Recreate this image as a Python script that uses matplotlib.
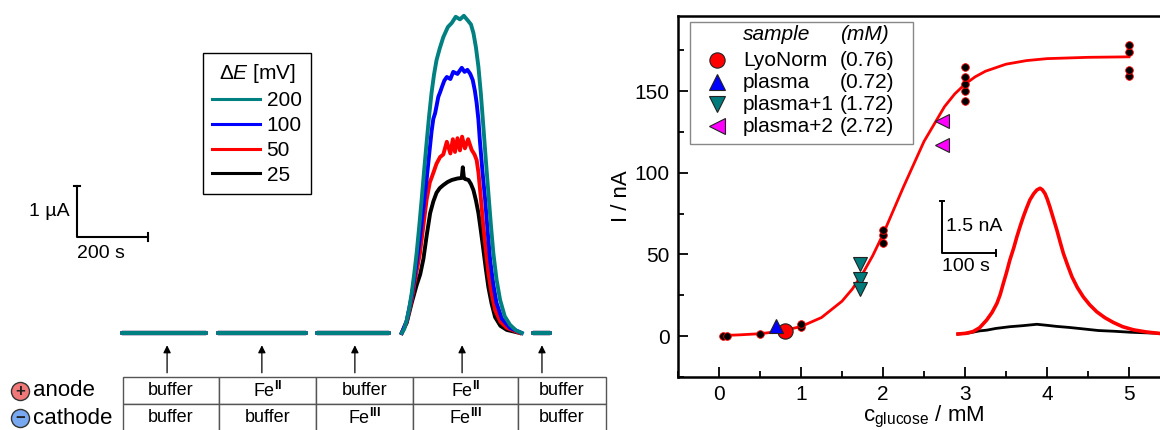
import matplotlib
matplotlib.use("Agg")
import matplotlib.pyplot as plt
from matplotlib.lines import Line2D
from matplotlib.patches import Rectangle
from matplotlib.ticker import MultipleLocator

plt.rcParams['font.family'] = ['Liberation Sans', 'DejaVu Sans']
plt.rcParams['mathtext.fontset'] = 'custom'
plt.rcParams['mathtext.rm'] = 'Liberation Sans'
plt.rcParams['mathtext.it'] = 'Liberation Sans:italic'
plt.rcParams['mathtext.bf'] = 'Liberation Sans:bold'

W, H = 1160, 430


def fx(px):
    return px / W


def fy(py):
    return 1 - py / H


# ---- left panel: current traces (time in s, current in uA) ----
baseline_segments = [(0, 237), (270, 518), (549, 752), (1158, 1206)]
delta_e = ['200', '100', '50', '25']
trace_colors = ['#008080', '#0000ff', '#ff0000', '#000000']

t_200 = [788, 795, 802, 809, 816, 823, 830, 837, 844, 851, 858, 865, 872, 879, 886, 895, 905,
         918, 929, 940, 952, 963, 975, 983, 990, 997, 1004, 1011, 1018, 1025, 1032, 1039,
         1046, 1055, 1065, 1078, 1093, 1110, 1126]
i_200 = [0, 0.08, 0.25, 0.48, 0.78, 1.15, 1.57, 2.07, 2.61, 3.18, 3.73, 4.25, 4.71, 5.07,
         5.35, 5.58, 5.80, 6.00, 6.08, 6.20, 6.15, 6.22, 6.12, 6.05, 5.88, 5.60, 5.22, 4.68,
         4.04, 3.38, 2.75, 2.13, 1.57, 1.05, 0.65, 0.33, 0.16, 0.05, 0]
t_100 = [788, 802, 816, 830, 840, 849, 858, 866, 872, 877, 882, 886, 891, 896, 901, 908, 915,
         925, 933, 945, 957, 965, 973, 981, 988, 994, 999, 1004, 1008, 1015, 1023, 1030, 1037,
         1046, 1055, 1070, 1093, 1126]
i_100 = [0, 0.24, 0.72, 1.38, 1.90, 2.45, 3.0, 3.55, 3.95, 4.20, 4.31, 4.45, 4.63, 4.72,
         4.82, 4.95, 5.02, 4.98, 5.12, 5.08, 5.20, 5.12, 5.16, 5.08, 4.96, 4.75, 4.51, 4.18,
         3.78, 3.20, 2.61, 2.0, 1.43, 0.95, 0.59, 0.28, 0.10, 0]
t_50 = [788, 802, 816, 828, 839, 848, 858, 867, 877, 886, 896, 905, 915, 925, 932, 938, 945,
        952, 958, 966, 975, 985, 993, 999, 1004, 1008, 1013, 1018, 1025, 1032, 1041, 1051,
        1066, 1084, 1121]
i_50 = [0, 0.22, 0.65, 1.14, 1.55, 2.05, 2.61, 2.95, 3.14, 3.32, 3.45, 3.50, 3.75, 3.52,
        3.80, 3.55, 3.82, 3.58, 3.85, 3.62, 3.80, 3.59, 3.50, 3.39, 3.15, 2.86, 2.48, 2.08,
        1.62, 1.18, 0.78, 0.45, 0.22, 0.10, 0]
t_25 = [788, 802, 816, 830, 840, 849, 858, 868, 877, 886, 895, 905, 917, 929, 945, 957, 960,
        963, 966, 976, 983, 990, 997, 1004, 1011, 1018, 1025, 1032, 1041, 1051, 1066, 1084,
        1121]
i_25 = [0, 0.20, 0.59, 0.94, 1.15, 1.45, 1.90, 2.35, 2.58, 2.75, 2.84, 2.90, 2.96, 3.00,
        3.03, 3.04, 3.25, 3.05, 3.02, 3.00, 2.92, 2.80, 2.60, 2.35, 2.00, 1.63, 1.25, 0.90,
        0.58, 0.31, 0.14, 0.06, 0]
peak_t = [t_200, t_100, t_50, t_25]
peak_i = [i_200, i_100, i_50, i_25]

arrow_t = [127, 394, 656, 958, 1183]
anode_row = ['buffer', r'Fe$^{\mathbf{II}}$', 'buffer', r'Fe$^{\mathbf{II}}$', 'buffer']
cathode_row = ['buffer', 'buffer', r'Fe$^{\mathbf{III}}$', r'Fe$^{\mathbf{III}}$', 'buffer']
col_px = [96, 97, 96, 105, 88]

# ---- right panel: calibration (c in mM, I in nA) ----
calib_c = [0.05, 0.1, 0.5, 1.0, 1.0, 2.0, 2.0, 2.0, 3.0, 3.0, 3.0, 3.0, 3.0, 5.0, 5.0, 5.0, 5.0]
calib_i = [0, 0, 1.5, 5.5, 7.5, 57, 62, 65, 144, 150, 154.5, 158.5, 164.5, 159, 163, 174, 178]
fit_c = [0.05, 0.25, 0.5, 0.75, 1.0, 1.25, 1.5, 1.625, 1.75, 1.875, 2.0, 2.25, 2.5, 2.75,
         2.875, 3.0, 3.125, 3.25, 3.5, 3.75, 4.0, 4.5, 5.0]
fit_i = [0.4, 0.8, 1.5, 3.0, 5.9, 11.4, 21.4, 28.8, 38.1, 49.3, 62.3, 91.4, 119.2, 140.5,
         148.3, 154.3, 158.8, 162.2, 166.5, 168.7, 169.9, 170.7, 171.0]

samples = ['LyoNorm', 'plasma', 'plasma+1', 'plasma+2']
sample_mM = ['(0.76)', '(0.72)', '(1.72)', '(2.72)']
sample_c = [[0.80], [0.70], [1.72, 1.72, 1.72], [2.72, 2.72]]
sample_i = [[2.9], [6.0], [44, 35, 29], [132, 117]]
sample_marker = ['o', '^', 'v', '<']
sample_color = ['#ff0000', '#0000ff', '#007a7a', '#ff00ff']

# inset peak (t in s, I in nA)
inset_t = [0, 15, 28, 40, 53, 63, 72, 78, 84, 90, 96, 103, 109, 115, 121, 127, 133, 140, 146,
           152, 156, 161, 165, 170, 176, 183, 189, 195, 203, 211, 221, 232, 244, 257, 272, 288,
           305, 325, 348, 371]
inset_red = [0, 0.02, 0.07, 0.18, 0.40, 0.62, 0.88, 1.13, 1.46, 1.78, 2.13, 2.47, 2.80, 3.10,
             3.38, 3.63, 3.86, 4.04, 4.15, 4.20, 4.16, 4.05, 3.90, 3.67, 3.36, 3.0, 2.66, 2.33,
             1.98, 1.65, 1.34, 1.07, 0.84, 0.64, 0.47, 0.33, 0.21, 0.12, 0.06, 0.02]
inset_bt = [0, 20, 40, 53, 70, 96, 120, 146, 165, 182, 205, 230, 260, 288, 320, 371]
inset_black = [0, 0.03, 0.09, 0.11, 0.16, 0.21, 0.24, 0.28, 0.25, 0.22, 0.19, 0.15, 0.10,
               0.08, 0.05, 0.02]

fig = plt.figure(figsize=(W / 100, H / 100), dpi=100)

# left traces axes, scale: 0.355 px per s, 51 px per uA, origin at (122, 333) px
ax1 = fig.add_axes([fx(60), fy(375), 540 / W, 370 / H])
ax1.set_xlim(-(122 - 60) / 0.355, (600 - 122) / 0.355)
ax1.set_ylim(-(375 - 333) / 51, (333 - 5) / 51)
ax1.axis('off')

for k in [3, 2, 1, 0]:
    for t0, t1 in baseline_segments:
        ax1.plot([t0, t1], [0, 0], color=trace_colors[k], lw=3, solid_capstyle='round', zorder=5 - k)
    ax1.plot(peak_t[k], peak_i[k], color=trace_colors[k], lw=2.8, zorder=5 - k,
             solid_joinstyle='round')

handles = [Line2D([], [], color=c, lw=2.2) for c in trace_colors]
leg = ax1.legend(handles, delta_e, title=r'$\Delta\mathit{E}$ [mV]', loc='upper left',
                 bbox_to_anchor=(fx(203), fy(53)), bbox_transform=fig.transFigure,
                 borderaxespad=0, fontsize=15, title_fontsize=15, handlelength=2.3,
                 handletextpad=0.3, labelspacing=0.28, fancybox=False, framealpha=1,
                 edgecolor='black', borderpad=0.45)
leg.get_frame().set_linewidth(1.0)

# scale bar
sb_t, sb_i = -127, 1.88
ax1.plot([sb_t, sb_t, sb_t + 200], [sb_i + 1, sb_i, sb_i], color='black', lw=1.5, clip_on=False)
ax1.plot([sb_t - 8, sb_t + 8], [sb_i + 1, sb_i + 1], color='black', lw=1.5)
ax1.plot([sb_t + 200, sb_t + 200], [sb_i - 0.08, sb_i + 0.08], color='black', lw=1.5)
ax1.text(sb_t - 20, sb_i + 0.5, '1 µA', ha='right', va='center', fontsize=14)
ax1.text(sb_t, sb_i - 0.15, '200 s', ha='left', va='top', fontsize=14)

for t in arrow_t:
    ax1.annotate('', xy=(t, -0.24), xytext=(t, -0.78),
                 arrowprops=dict(arrowstyle='-|>', color='black', lw=0.9,
                                 mutation_scale=11, shrinkA=0, shrinkB=0))

# table of solutions
ax3 = fig.add_axes([fx(123), fy(431), (606 - 123) / W, (431 - 377) / H])
ax3.axis('off')
tab = ax3.table(cellText=[anode_row, cathode_row], cellLoc='center',
                colWidths=[w / sum(col_px) for w in col_px], bbox=[0, 0, 1, 1])
tab.auto_set_font_size(False)
tab.set_fontsize(13)
for cell in tab.get_celld().values():
    cell.set_edgecolor('#555555')
    cell.set_linewidth(1.0)

for py, lab, fc, sign in [(391, 'anode', '#f07878', '+'), (418, 'cathode', '#78a8f0', '−')]:
    fig.add_artist(Line2D([fx(20)], [fy(py)], marker='o', markersize=13, markerfacecolor=fc,
                          markeredgecolor='#333333', markeredgewidth=1.0, transform=fig.transFigure))
    fig.text(fx(20), fy(py) - 0.002, sign, ha='center', va='center', fontsize=12,
             fontweight='bold', color='#222222')
    fig.text(fx(33), fy(py), lab, ha='left', va='center', fontsize=16)

# ---- right calibration axes ----
ax2 = fig.add_axes([fx(678), fy(377), (1170 - 678) / W, (377 - 16) / H])
ax2.set_xlim(-0.5, 5.5)
ax2.set_ylim(-25, 196)
ax2.plot(fit_c, fit_i, color='#ff0000', lw=2.0, zorder=2)
ax2.plot(calib_c, calib_i, 'o', color='black', markersize=5.5, markeredgecolor='#ff0000',
         markeredgewidth=0.6, zorder=3)
for k in range(4):
    ms = 11 if sample_marker[k] == 'o' else 10
    ax2.plot(sample_c[k], sample_i[k], sample_marker[k], color=sample_color[k], markersize=ms,
             markeredgecolor='#222222', markeredgewidth=0.8, zorder=4)

ax2.xaxis.set_major_locator(MultipleLocator(1))
ax2.xaxis.set_minor_locator(MultipleLocator(0.5))
ax2.yaxis.set_major_locator(MultipleLocator(50))
ax2.yaxis.set_minor_locator(MultipleLocator(25))
ax2.tick_params(which='both', direction='in', width=1.3, labelsize=15)
ax2.tick_params(which='major', length=7, pad=6)
ax2.tick_params(which='minor', length=4)
for s in ax2.spines.values():
    s.set_linewidth(1.8)
ax2.set_xlabel(r'c$_{\mathrm{glucose}}$ / mM', fontsize=16, labelpad=0)
ax2.set_ylabel('I / nA', fontsize=16, labelpad=2)

# legend box drawn by hand to keep the two text columns aligned
fig.add_artist(Rectangle((fx(690), fy(144)), (913 - 690) / W, (144 - 22) / H,
                         transform=fig.transFigure, facecolor='white', edgecolor='#888888',
                         lw=1.0, zorder=5))
fig.text(fx(743), fy(35), 'sample', style='italic', fontsize=15, va='center', zorder=6)
fig.text(fx(840), fy(35), '(mM)', style='italic', fontsize=15, va='center', zorder=6)
for k, py in enumerate([60, 82, 104, 126]):
    fig.add_artist(Line2D([fx(717)], [fy(py)], marker=sample_marker[k], markersize=11,
                          markerfacecolor=sample_color[k], markeredgecolor='#222222',
                          markeredgewidth=0.8, transform=fig.transFigure, zorder=6))
    fig.text(fx(743), fy(py), samples[k], fontsize=15, va='center', zorder=6)
    fig.text(fx(840), fy(py), sample_mM[k], fontsize=15, va='center', zorder=6)

# inset peak, scale: 0.54 px per s, 34.7 px per nA, origin at (958, 334) px
ax4 = fig.add_axes([fx(940), fy(345), 220 / W, 160 / H])
ax4.set_xlim(-18 / 0.54, 202 / 0.54)
ax4.set_ylim(-11 / 34.7, 149 / 34.7)
ax4.axis('off')
ax4.plot(inset_bt, inset_black, color='black', lw=2.0, zorder=2)
ax4.plot(inset_t, inset_red, color='#ff0000', lw=2.6, zorder=3)
it0, ii0 = -30, 2.34
ax4.plot([it0, it0, it0 + 100], [ii0 + 1.5, ii0, ii0], color='black', lw=1.4, clip_on=False)
ax4.plot([it0 - 4, it0 + 4], [ii0 + 1.5, ii0 + 1.5], color='black', lw=1.4, clip_on=False)
ax4.plot([it0 + 100, it0 + 100], [ii0 - 0.08, ii0 + 0.08], color='black', lw=1.4)
ax4.text(it0 + 8, ii0 + 0.75, '1.5 nA', ha='left', va='center', fontsize=14)
ax4.text(it0, ii0 - 0.15, '100 s', ha='left', va='top', fontsize=14)

fig.savefig('out.png', dpi=100)
